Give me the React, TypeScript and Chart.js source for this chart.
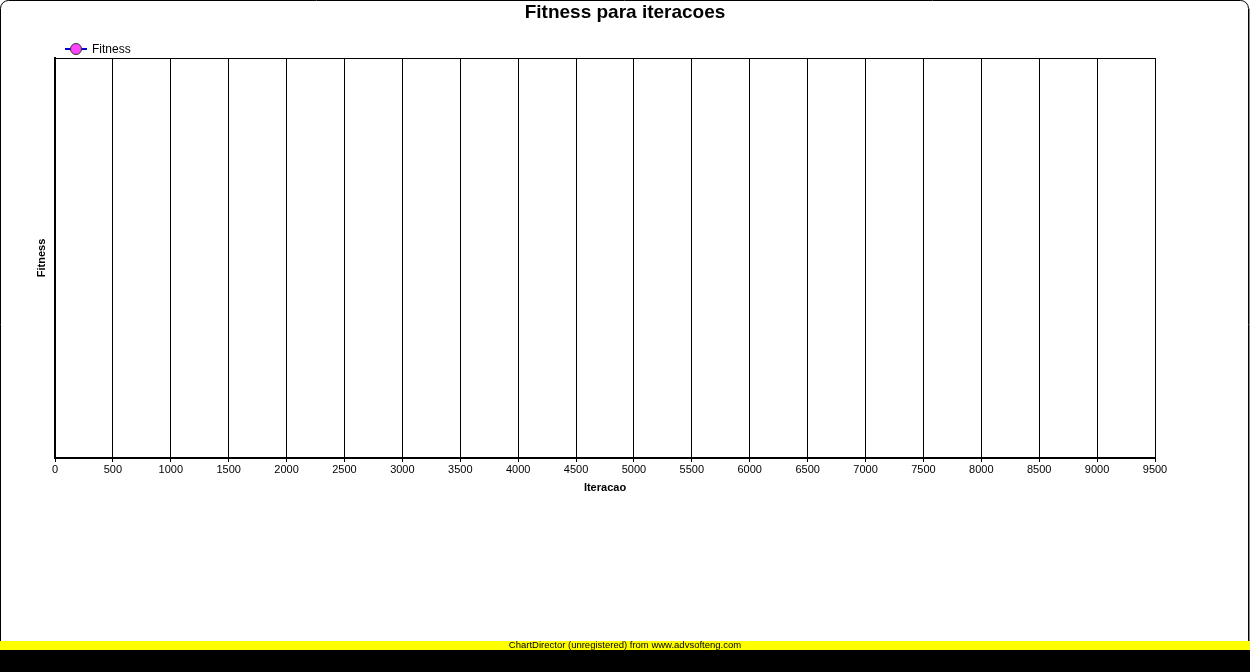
import React, { useEffect, useRef } from 'react';
import { Chart, registerables } from 'chart.js';

Chart.register(...registerables);

// ---- data ----
const chartTitle = 'Fitness para iteracoes';
const seriesName = 'Fitness';
const xAxisTitle = 'Iteracao';
const yAxisTitle = 'Fitness';
const xMin = 0;
const xMax = 9500;
const xStep = 500;
// the series is empty in the reference (no points plotted)
const iterations: number[] = [];
const fitnessValues: number[] = [];
const footerText = 'ChartDirector (unregistered) from www.advsofteng.com';

const FONT = '"Liberation Sans", Arial, Helvetica, sans-serif';
const LINE_COLOR = '#0000cc';
const POINT_COLOR = '#ff44ff';

const decorPlugin = {
  id: 'decor',
  beforeDraw(chart: any) {
    const { ctx, width, height } = chart;
    ctx.save();
    ctx.fillStyle = '#ffffff';
    ctx.fillRect(0, 0, width, height);
    // outer rounded border
    const r = 8;
    const x0 = 0.5, y0 = 0.5, x1 = width - 1.5, y1 = 641;
    ctx.strokeStyle = '#000000';
    ctx.lineWidth = 1;
    ctx.beginPath();
    ctx.moveTo(x0, y1);
    ctx.lineTo(x0, y0 + r);
    ctx.arcTo(x0, y0, x0 + r, y0, r);
    ctx.lineTo(x1 - r, y0);
    ctx.arcTo(x1, y0, x1, y0 + r, r);
    ctx.lineTo(x1, y1);
    ctx.stroke();
    ctx.strokeStyle = '#888888';
    ctx.beginPath();
    ctx.moveTo(x1 + 1, y0 + r);
    ctx.lineTo(x1 + 1, y1);
    ctx.stroke();
    // footer bars
    ctx.fillStyle = '#ffff00';
    ctx.fillRect(0, 641, width, 9);
    ctx.fillStyle = '#000000';
    ctx.fillRect(0, 650, width, height - 650);
    ctx.fillStyle = '#000000';
    ctx.font = `9.5px ${FONT}`;
    ctx.textAlign = 'center';
    ctx.textBaseline = 'middle';
    ctx.fillText(footerText, width / 2, 645.5);
    ctx.restore();
  },
  afterDraw(chart: any) {
    const { ctx, chartArea } = chart;
    ctx.save();
    // top border of plot area
    ctx.strokeStyle = '#000000';
    ctx.lineWidth = 1;
    ctx.beginPath();
    ctx.moveTo(chartArea.left, Math.round(chartArea.top) + 0.5);
    ctx.lineTo(chartArea.right, Math.round(chartArea.top) + 0.5);
    ctx.stroke();
    // title
    ctx.fillStyle = '#000000';
    ctx.font = `bold 19px ${FONT}`;
    ctx.textAlign = 'center';
    ctx.textBaseline = 'middle';
    ctx.fillText(chartTitle, 625, 13);
    // legend
    const ly = 49;
    ctx.strokeStyle = LINE_COLOR;
    ctx.lineWidth = 2;
    ctx.beginPath();
    ctx.moveTo(65, ly);
    ctx.lineTo(87, ly);
    ctx.stroke();
    ctx.beginPath();
    ctx.arc(76, ly, 5.5, 0, Math.PI * 2);
    ctx.fillStyle = POINT_COLOR;
    ctx.fill();
    ctx.strokeStyle = '#333333';
    ctx.lineWidth = 1;
    ctx.stroke();
    ctx.fillStyle = '#000000';
    ctx.font = `12px ${FONT}`;
    ctx.textAlign = 'left';
    ctx.fillText(seriesName, 92, ly + 1);
    ctx.restore();
  },
};

export default function App() {
  const canvasRef = useRef<HTMLCanvasElement | null>(null);

  useEffect(() => {
    if (!canvasRef.current) return;
    const points = iterations.map((x, i) => ({ x, y: fitnessValues[i] }));
    const chart = new Chart(canvasRef.current, {
      type: 'line',
      data: {
        datasets: [
          {
            label: seriesName,
            data: points,
            borderColor: LINE_COLOR,
            backgroundColor: POINT_COLOR,
            pointBackgroundColor: POINT_COLOR,
            pointBorderColor: '#333333',
            pointRadius: 5,
            borderWidth: 2,
          },
        ],
      },
      options: {
        responsive: false,
        animation: false,
        devicePixelRatio: 1,
        layout: { padding: { left: 31, right: 95, top: 58, bottom: 173 } },
        plugins: {
          legend: { display: false },
          title: { display: false },
          tooltip: { enabled: false },
        },
        scales: {
          x: {
            type: 'linear',
            min: xMin,
            max: xMax,
            afterFit(scale: any) {
              scale.height = 41;
            },
            ticks: {
              stepSize: xStep,
              autoSkip: false,
              maxRotation: 0,
              padding: 1,
              color: '#000000',
              font: { family: FONT, size: 11 },
              callback: (v: any) => String(v),
            },
            grid: {
              color: '#000000',
              lineWidth: 1,
              drawTicks: true,
              tickLength: 4,
              tickColor: '#000000',
            },
            border: { display: true, color: '#000000', width: 2 },
            title: {
              display: true,
              text: xAxisTitle,
              color: '#000000',
              font: { family: FONT, size: 11, weight: 'bold' },
              padding: { top: 4, bottom: 4 },
            },
          },
          y: {
            type: 'linear',
            min: 0,
            max: 1,
            afterFit(scale: any) {
              scale.width = 24;
            },
            ticks: { display: false },
            grid: { display: true, drawOnChartArea: false, drawTicks: false },
            border: { display: true, color: '#000000', width: 2 },
            title: {
              display: true,
              text: yAxisTitle,
              color: '#000000',
              font: { family: FONT, size: 11, weight: 'bold' },
              padding: { top: 4, bottom: 4 },
            },
          },
        },
      },
      plugins: [decorPlugin],
    });
    return () => chart.destroy();
  }, []);

  return (
    <div style={{ position: 'absolute', left: 0, top: 0, width: 1250, height: 672 }}>
      <canvas ref={canvasRef} width={1250} height={672} style={{ display: 'block' }} />
    </div>
  );
}
